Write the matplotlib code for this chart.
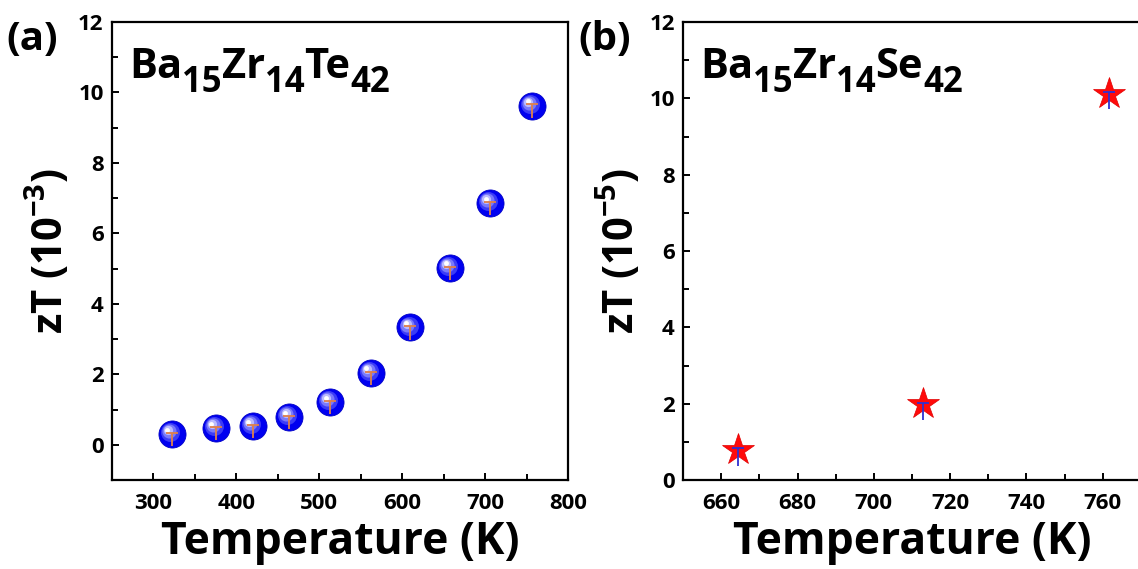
import matplotlib.pyplot as plt
import matplotlib.transforms as mtransforms
import numpy as np

plt.rcParams["font.family"] = ["Open Sans", "DejaVu Sans"]
plt.rcParams["font.weight"] = "bold"
plt.rcParams["mathtext.fontset"] = "custom"
plt.rcParams["mathtext.rm"] = "Open Sans:bold"
plt.rcParams["mathtext.it"] = "Open Sans:bold"
plt.rcParams["mathtext.bf"] = "Open Sans:bold"
plt.rcParams["mathtext.default"] = "rm"

# Ba15Zr14Te42
temp_te = [322, 375, 420, 464, 513, 562, 610, 658, 706, 757]
zt_te = [0.31, 0.48, 0.54, 0.79, 1.22, 2.05, 3.33, 5.03, 6.87, 9.63]
err_te_lo = [0.35, 0.35, 0.35, 0.35, 0.35, 0.35, 0.35, 0.35, 0.35, 0.35]
err_te_hi = [0.03, 0.03, 0.03, 0.03, 0.03, 0.03, 0.03, 0.03, 0.03, 0.03]

# Ba15Zr14Se42
temp_se = [664.5, 713.0, 761.5]
zt_se = [0.78, 1.98, 10.12]
err_se_lo = [0.4, 0.4, 0.4]
err_se_hi = [0.05, 0.05, 0.05]

formula_te = [("Ba", "15"), ("Zr", "14"), ("Te", "42")]
formula_se = [("Ba", "15"), ("Zr", "14"), ("Se", "42")]


def _estilo_ejes(ax):
    for s in ax.spines.values():
        s.set_linewidth(1.6)
    ax.tick_params(which="both", direction="in", width=1.4, labelsize=16)
    ax.tick_params(axis="x", pad=9)
    ax.tick_params(axis="y", pad=6)
    ax.tick_params(which="major", length=5)
    ax.tick_params(which="minor", length=4)
    for lab in ax.get_xticklabels() + ax.get_yticklabels():
        lab.set_fontweight("bold")


def _esferas(ax, x, y, size):
    # bola azul con brillo arriba a la izquierda
    ax.plot(x, y, "o", ms=size, color="#0000f0", mec="#0000c8", mew=0.6, zorder=3)
    capas = [(0.70, "#3c3cf6", -1.4, 1.3), (0.52, "#7a7afa", -2.2, 2.0),
             (0.34, "#bcbcfe", -2.8, 2.6), (0.18, "#ffffff", -3.2, 3.0)]
    for frac, col, dx, dy in capas:
        off = mtransforms.ScaledTranslation(dx / 72, dy / 72, ax.figure.dpi_scale_trans)
        ax.plot(x, y, "o", ms=size * frac, color=col, mew=0,
                transform=ax.transData + off, zorder=4)


def _formula(ax, partes, x, y, size=30, sub=25, baja=9):
    # elementos y subindices encadenados uno tras otro
    prev = None
    for elem, n in partes:
        if prev is None:
            prev = ax.text(x, y, elem, transform=ax.transAxes, fontsize=size,
                           fontweight="bold", ha="left", va="bottom")
        else:
            prev = ax.annotate(elem, xy=(1, 0), xycoords=prev, xytext=(0, baja),
                               textcoords="offset points", fontsize=size,
                               fontweight="bold", ha="left", va="bottom")
        prev = ax.annotate(n, xy=(1, 0), xycoords=prev, xytext=(0, -baja),
                           textcoords="offset points", fontsize=sub,
                           fontweight="bold", ha="left", va="bottom")


fig = plt.figure(figsize=(11.38, 5.69), dpi=100)
ax1 = fig.add_axes([0.0984, 0.1564, 0.4007, 0.8049])
ax2 = fig.add_axes([0.6002, 0.1564, 0.4024, 0.8049])

# (a) telururo
_esferas(ax1, temp_te, zt_te, 19.5)
eb = ax1.errorbar(temp_te, zt_te, yerr=[err_te_lo, err_te_hi], fmt="none",
                  ecolor="#e0804a", elinewidth=1.3, capsize=4, capthick=1.3, zorder=5)
eb[1][0].set_visible(False)
ax1.set_xlim(250, 800)
ax1.set_ylim(-1, 12)
ax1.set_xticks(np.arange(300, 801, 100))
ax1.set_xticks(np.arange(250, 801, 50), minor=True)
ax1.set_yticks(np.arange(0, 13, 2))
ax1.set_yticks(np.arange(-1, 12.5, 1), minor=True)
ax1.set_xlabel("Temperature (K)", fontsize=32, fontweight="bold", labelpad=5)
ax1.set_ylabel(r"zT (10$^{-3}$)", fontsize=30, fontweight="bold", labelpad=4)
_formula(ax1, formula_te, 0.037, 0.855)
_estilo_ejes(ax1)

# (b) seleniuro
ax2.plot(temp_se, zt_se, "*", ms=24, color="#ff0a0a", mec="#e00000", mew=0.5, zorder=3)
eb2 = ax2.errorbar(temp_se, zt_se, yerr=[err_se_lo, err_se_hi], fmt="none",
                   ecolor="#3030d0", elinewidth=1.3, capsize=4, capthick=1.3, zorder=4)
eb2[1][0].set_visible(False)
ax2.set_xlim(650, 770)
ax2.set_ylim(0, 12)
ax2.set_xticks(np.arange(660, 771, 20))
ax2.set_xticks(np.arange(650, 771, 10), minor=True)
ax2.set_yticks(np.arange(0, 13, 2))
ax2.set_yticks(np.arange(0, 12.5, 1), minor=True)
ax2.set_xlabel("Temperature (K)", fontsize=32, fontweight="bold", labelpad=5)
ax2.set_ylabel(r"zT (10$^{-5}$)", fontsize=30, fontweight="bold", labelpad=4)
_formula(ax2, formula_se, 0.037, 0.855)
_estilo_ejes(ax2)

fig.text(0.006, 0.93, "(a)", fontsize=29, fontweight="bold", ha="left", va="center")
fig.text(0.508, 0.93, "(b)", fontsize=29, fontweight="bold", ha="left", va="center")

fig.savefig("out.png", dpi=100)
